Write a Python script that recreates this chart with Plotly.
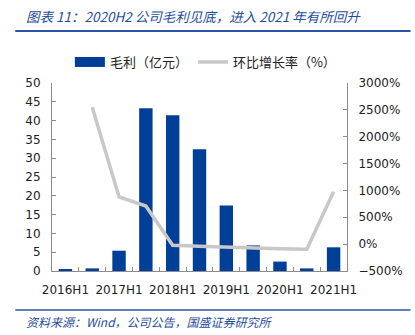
import plotly.graph_objects as go

periods = ["2016H1", "2016H2", "2017H1", "2017H2", "2018H1", "2018H2",
           "2019H1", "2019H2", "2020H1", "2020H2", "2021H1"]
gross_profit = [0.5, 0.7, 5.4, 43.3, 41.4, 32.4, 17.4, 6.8, 2.5, 0.7, 6.3]
qoq_growth = [None, 2550, 880, 710, -20, -40, -60, -80, -85, -95, 975]
tick_text = [p if p.endswith("H1") else "" for p in periods]

W, H = 415, 335
L, R, T, B = 52, 349, 83, 271
pw, ph = R - L, B - T


def px(x):
    return (x - L) / pw


def py(y):
    return (B - y) / ph


BLUE = "#003f98"
GRAY = "#c8c8c8"
AXIS = "#8c8c8c"
FONT = "Noto Sans CJK SC, DejaVu Sans, sans-serif"

fig = go.Figure()
fig.add_trace(go.Bar(
    x=periods, y=gross_profit, name="毛利（亿元）", showlegend=False,
    marker=dict(color=BLUE, line=dict(width=0)), yaxis="y",
))
# legend entry with a wide rectangular swatch for the bars
fig.add_trace(go.Scatter(
    x=[None], y=[None], name="毛利（亿元）", mode="lines",
    line=dict(color=BLUE, width=10), yaxis="y",
))
fig.add_trace(go.Scatter(
    x=periods, y=qoq_growth, name="环比增长率（%）", mode="lines",
    line=dict(color=GRAY, width=3.5), yaxis="y2", connectgaps=False,
))

fig.update_layout(
    width=W, height=H,
    margin=dict(l=L, r=W - R, t=T, b=H - B),
    paper_bgcolor="white", plot_bgcolor="white",
    font=dict(family="Tahoma, DejaVu Sans, sans-serif", size=12, color="#222"),
    bargap=0.5,
    showlegend=True,
    legend=dict(
        orientation="h", x=px(70), y=py(62), xanchor="left", yanchor="middle",
        font=dict(family=FONT, size=13, color="#222"),
        itemwidth=30, tracegroupgap=0, bgcolor="rgba(0,0,0,0)",
    ),
    xaxis=dict(
        type="category", tickmode="array", tickvals=periods, ticktext=tick_text,
        tickson="boundaries", ticks="inside", ticklen=4, tickcolor=AXIS,
        showline=True, linecolor=AXIS, linewidth=1, showgrid=False,
        tickfont=dict(size=12, color="#222"), tickangle=0,
        ticklabelstandoff=8,
    ),
    yaxis=dict(
        range=[0, 50], dtick=5, showgrid=False, zeroline=False,
        showline=True, linecolor=AXIS, ticks="inside", ticklen=4, tickcolor=AXIS,
        tickfont=dict(size=12, color="#222"), ticklabelstandoff=8,
    ),
    yaxis2=dict(
        range=[-500, 3000], dtick=500, overlaying="y", side="right",
        showgrid=False, zeroline=False, ticksuffix="%",
        showline=True, linecolor=AXIS, ticks="inside", ticklen=4, tickcolor=AXIS,
        tickfont=dict(size=12, color="#222"), ticklabelstandoff=8,
    ),
    shapes=[
        dict(type="line", xref="paper", yref="paper",
             x0=px(15), x1=px(413), y0=py(31), y1=py(31),
             line=dict(color="#2b55a3", width=2)),
        dict(type="line", xref="paper", yref="paper",
             x0=px(15), x1=px(413), y0=py(310), y1=py(310),
             line=dict(color="#2b55a3", width=1.5)),
    ],
    annotations=[
        dict(text="<i>图表 11：2020H2 公司毛利见底，进入 2021 年有所回升</i>",
             xref="paper", yref="paper", x=px(24), y=py(16),
             xanchor="left", yanchor="middle", showarrow=False,
             font=dict(family=FONT, size=13.5, color="#1f4e9c")),
        dict(text="<i>资料来源：Wind，公司公告，国盛证券研究所</i>",
             xref="paper", yref="paper", x=px(24), y=py(321),
             xanchor="left", yanchor="middle", showarrow=False,
             font=dict(family=FONT, size=12, color="#1f4e9c")),
    ],
)

fig.write_html("out.html")
